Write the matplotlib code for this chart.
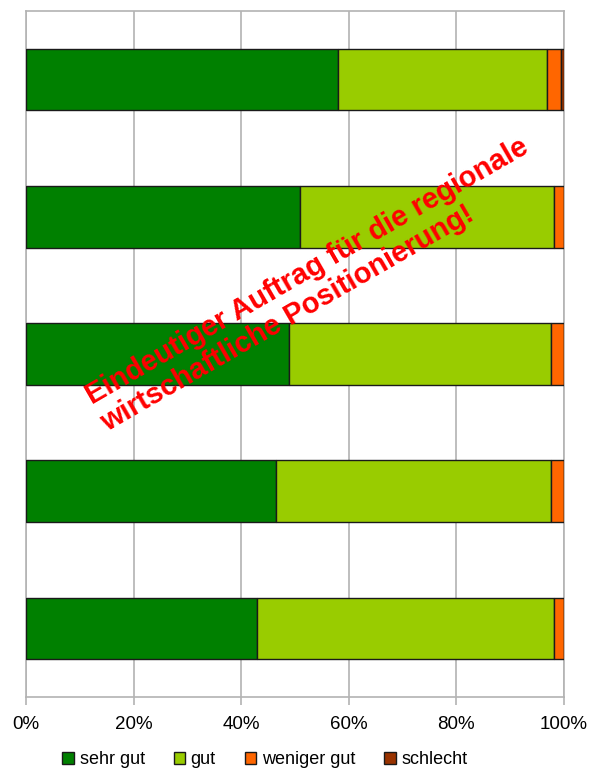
import numpy as np
import matplotlib
matplotlib.use("Agg")
import matplotlib.pyplot as plt

plt.rcParams['font.family'] = ['Liberation Sans', 'DejaVu Sans']

# shares per bar, top to bottom (percent)
series = ["sehr gut", "gut", "weniger gut", "schlecht"]
sehr_gut = [58.0, 50.9, 48.9, 46.5, 42.9]
gut = [38.8, 47.2, 48.7, 51.0, 55.2]
weniger_gut = [2.6, 1.9, 2.4, 2.5, 1.9]
schlecht = [0.6, 0.0, 0.0, 0.0, 0.0]
colors = ["#008000", "#99cc00", "#ff6600", "#993300"]
ticks = [0, 20, 40, 60, 80, 100]

fig = plt.figure(figsize=(5.97, 7.71), dpi=100)
ax = fig.add_axes([26/597, 74/771, 538/597, 686/771])

y = np.arange(len(sehr_gut))[::-1]
left = np.zeros(len(sehr_gut))
for name, vals, col in zip(series, [sehr_gut, gut, weniger_gut, schlecht], colors):
    ax.barh(y, vals, left=left, height=0.45, color=col, edgecolor="#1a1a1a",
            linewidth=1.0, label=name, zorder=3)
    left = left + np.array(vals)

ax.set_xlim(0, 100)
ax.set_ylim(-0.5, len(sehr_gut) - 0.5)
ax.set_xticks(ticks)
ax.set_xticklabels(["%d%%" % t for t in ticks], fontsize=13.5)
ax.set_yticks([])
ax.grid(axis="x", color="#b3b3b3", linewidth=1.2, zorder=0)
for s in ax.spines.values():
    s.set_color("#b3b3b3")
    s.set_linewidth(1.2)
ax.tick_params(axis="x", length=6, color="#b3b3b3", width=1.2, pad=8)

ax.legend(loc="center", bbox_to_anchor=(0.444, -0.091), ncol=4, frameon=False,
          fontsize=13, handlelength=0.65, handleheight=0.65, handletextpad=0.3,
          columnspacing=1.6, borderaxespad=0, borderpad=0)

# slanted red annotation across the bars (lines left aligned)
fig.text(315/597, 1 - 285/771,
         "Eindeutiger Auftrag für die regionale\nwirtschaftliche Positionierung!",
         color="#ff0000", fontsize=21, fontweight="bold", rotation=30,
         ha="center", va="center", multialignment="left", rotation_mode="anchor",
         linespacing=1.12, zorder=10)

fig.savefig("out.png", dpi=100)
